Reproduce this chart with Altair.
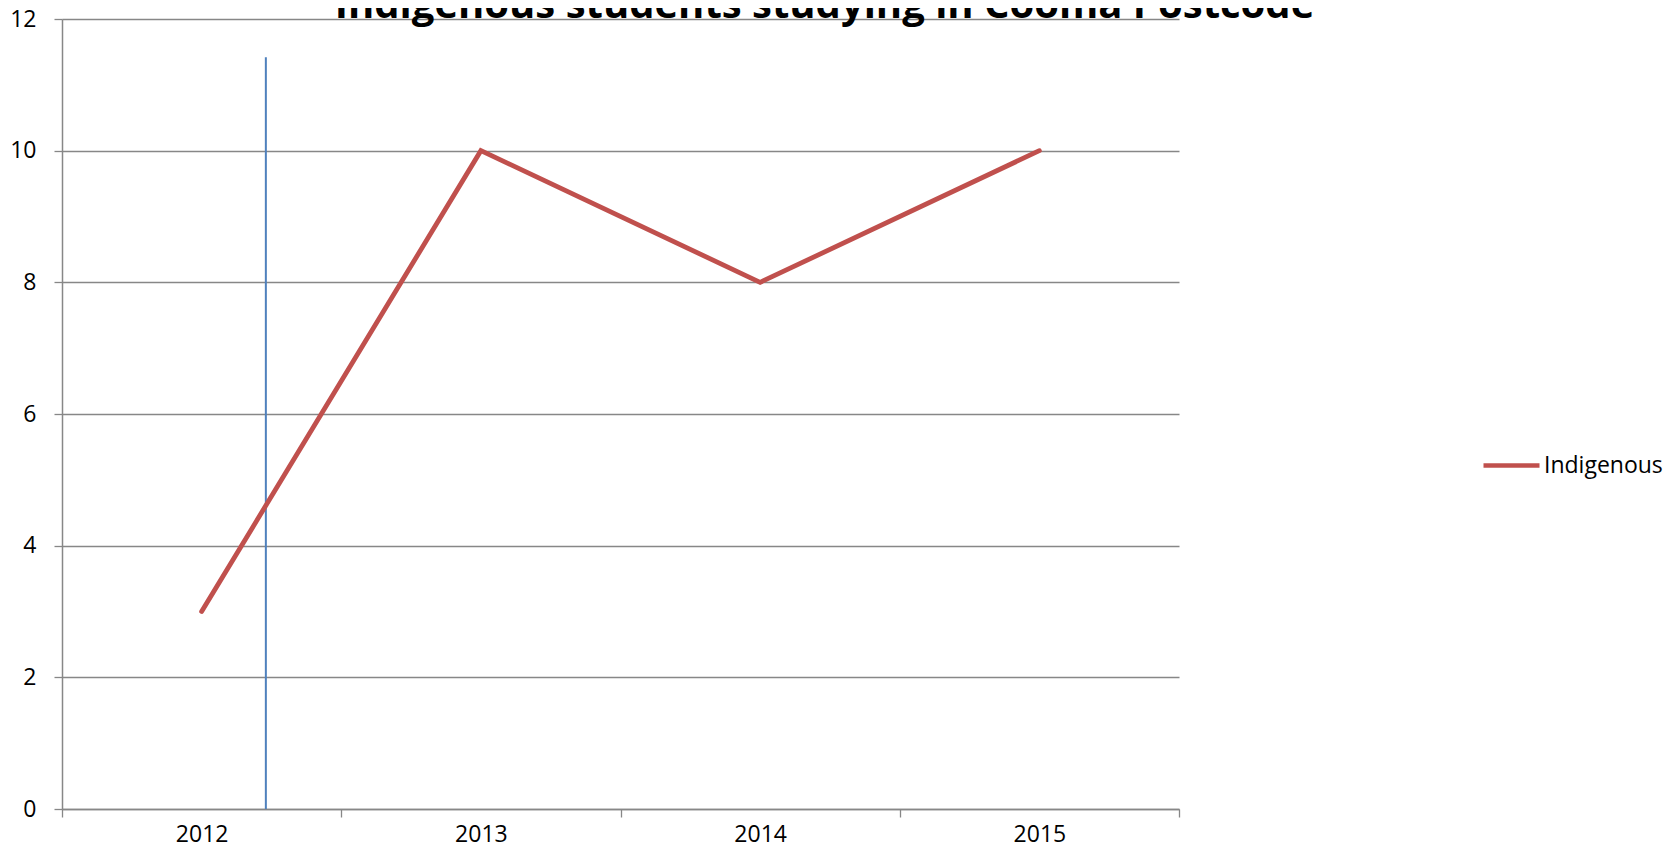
import altair as alt
import pandas as pd

years = ["2012", "2013", "2014", "2015"]
values = [3, 10, 8, 10]
series_name = "Indigenous"
y_ticks = [0, 2, 4, 6, 8, 10, 12]

# stray vertical blue line (position on a continuous year scale)
blue_x = [2012.23]
blue_top = [11.42]
blue_bottom = [0]

title_text = "Indigenous students studying in Cooma Postcode"

FONT = "Open Sans"
GRID = "#878787"

line_df = pd.DataFrame({"Year": years, "Students": values, "Series": [series_name] * len(years)})
blue_df = pd.DataFrame({"bx": blue_x, "by": blue_top, "by2": blue_bottom})

y_scale = alt.Scale(domain=[0, 12], nice=False)

line = alt.Chart(line_df).mark_line(strokeWidth=4.8, strokeCap="round", strokeJoin="miter").encode(
    x=alt.X("Year:O", sort=years,
            scale=alt.Scale(type="band", paddingInner=0, paddingOuter=0),
            axis=alt.Axis(title=None, labelAngle=0, tickBand="extent", ticks=True, tickSize=8,
                          tickColor=GRID, tickWidth=1.3, domainColor=GRID, domainWidth=1.5,
                          labelFont=FONT, labelFontSize=23, labelColor="black",
                          labelPadding=6, grid=False)),
    y=alt.Y("Students:Q", scale=y_scale,
            axis=alt.Axis(title=None, values=y_ticks, format="d", tickSize=8, tickColor=GRID,
                          tickWidth=1.3, domainColor=GRID, domainWidth=1.5, grid=True,
                          gridColor=GRID, gridWidth=1.3, labelFont=FONT, labelFontSize=23,
                          labelColor="black", labelPadding=18)),
    color=alt.Color("Series:N", scale=alt.Scale(range=["#C0504D"]),
                    legend=alt.Legend(title=None, orient="none", legendX=1419, legendY=416,
                                      symbolType="stroke", symbolSize=3136, symbolStrokeWidth=4.5,
                                      labelFont=FONT, labelFontSize=23, labelColor="black",
                                      labelOffset=2)),
)

blue = alt.Chart(blue_df).mark_rule(color="#4F81BD", strokeWidth=2).encode(
    x=alt.X("bx:Q", scale=alt.Scale(domain=[2011.5, 2015.5], nice=False, zero=False), axis=None),
    y=alt.Y("by:Q", scale=y_scale),
    y2="by2:Q",
)

chart = alt.layer(blue, line).resolve_scale(x="independent").properties(
    width=1117,
    height=790,
    autosize=alt.AutoSizeParams(type="none"),
    padding={"left": 54, "top": 11, "right": 489, "bottom": 39},
    background="white",
    title=alt.TitleParams(title_text, font=FONT, fontSize=40, fontWeight="bold", color="black",
                          anchor="middle", dx=204, offset=0, dy=50, baseline="alphabetic"),
).configure_view(stroke=None)

chart.save("out.html", embed_options={"renderer": "svg", "actions": False})
